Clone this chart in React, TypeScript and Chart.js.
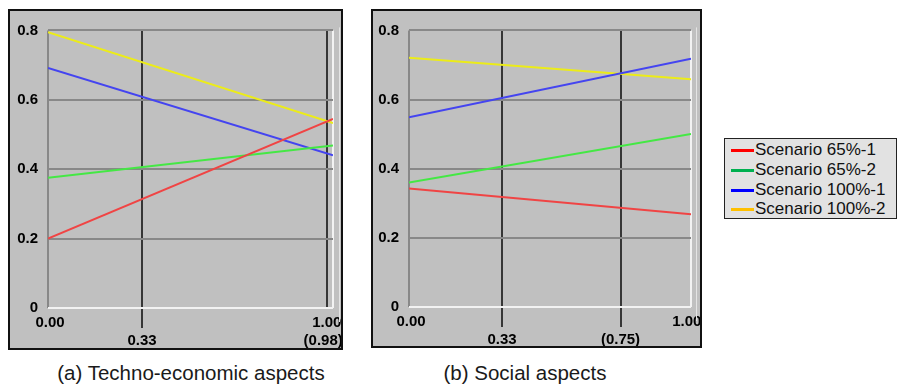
import React, { useEffect, useRef } from "react";
import { Chart, registerables } from "chart.js";

Chart.register(...registerables);

// ---------- data ----------
const scenarioNames = ["Scenario 65%-1", "Scenario 65%-2", "Scenario 100%-1", "Scenario 100%-2"];
const xValues = [0, 1];

// (a) Techno-economic aspects
const technoRed = [0.2, 0.545];
const technoGreen = [0.375, 0.468];
const technoBlue = [0.692, 0.44];
const technoYellow = [0.795, 0.533];

// (b) Social aspects
const socialRed = [0.343, 0.268];
const socialGreen = [0.36, 0.5];
const socialBlue = [0.549, 0.718];
const socialYellow = [0.721, 0.659];

const yTickValues = [0, 0.2, 0.4, 0.6, 0.8];
const technoXTicks = [0, 0.33, 0.98, 1];
const technoXLabels: (string | string[])[] = ["\u00a00.00", ["", "0.33"], ["", "(0.98)\u00a0\u00a0"], "1.00\u00a0\u00a0\u00a0"];
const socialXTicks = [0, 0.33, 0.75, 1];
const socialXLabels: (string | string[])[] = ["\u00a00.00", ["", "0.33"], ["", "(0.75)"], "1.00\u00a0\u00a0"];

const technoMarked = [0.33, 0.98];
const technoExtended = [0.33];
const socialMarked = [0.33, 0.75];
const socialExtended = [0.33, 0.75];

const captionA = "(a) Techno-economic aspects";
const captionB = "(b) Social aspects";

// ---------- styles ----------
const plotColors = ["#f04444", "#44e844", "#4444f0", "#ecec18"];
const legendColors = ["#ff0000", "#00b050", "#0000ff", "#ffc000"];
const tickFont = { family: 'Arial, "Liberation Sans", sans-serif', size: 15, weight: "bold" as const, lineHeight: 1.25 };

type PanelProps = {
  series: number[][];
  xTicks: number[];
  xLabels: (string | string[])[];
  marked: number[];
  extended: number[];
  left: number;
  top: number;
  width: number;
  height: number;
  yWidth: number;
  xHeight: number;
  padRight: number;
  frameOffset: number;
};

function Panel(p: PanelProps) {
  const ref = useRef<HTMLCanvasElement>(null);
  const innerW = p.width - 4;
  const innerH = p.height - 4;

  useEffect(() => {
    const framePlugin = {
      id: "frameLines",
      beforeDatasetsDraw(chart: any) {
        const { ctx, chartArea: a } = chart;
        ctx.save();
        ctx.strokeStyle = "#e4e4e4";
        ctx.lineWidth = 1;
        ctx.beginPath();
        ctx.moveTo(Math.round(a.right + p.frameOffset) + 0.5, a.top - 3);
        ctx.lineTo(Math.round(a.right + p.frameOffset) + 0.5, a.bottom + 14);
        ctx.stroke();
        ctx.restore();
      },
    };

    const isMarked = (v: number) => p.marked.some((m) => Math.abs(m - v) < 1e-9);
    const isExtended = (v: number) => p.extended.some((m) => Math.abs(m - v) < 1e-9);

    const chart = new Chart(ref.current as HTMLCanvasElement, {
      type: "line",
      data: {
        datasets: p.series.map((s, i) => ({
          label: scenarioNames[i],
          data: xValues.map((x, j) => ({ x, y: s[j] })),
          borderColor: plotColors[i],
          backgroundColor: plotColors[i],
          borderWidth: 2,
          pointRadius: 0,
          fill: false,
          tension: 0,
        })),
      },
      options: {
        animation: false,
        responsive: false,
        maintainAspectRatio: false,
        layout: { padding: { top: 12, right: p.padRight, left: 0, bottom: 0 } },
        plugins: { legend: { display: false }, tooltip: { enabled: false }, title: { display: false } },
        scales: {
          x: {
            type: "linear",
            min: 0,
            max: 1,
            border: { display: false },
            afterBuildTicks: (s: any) => {
              s.ticks = p.xTicks.map((v) => ({ value: v }));
            },
            afterFit: (s: any) => {
              s.height = p.xHeight;
            },
            grid: {
              drawTicks: true,
              tickLength: 20,
              tickWidth: 2,
              lineWidth: 2,
              color: (ctx: any) => {
                const v = ctx.tick ? ctx.tick.value : 0;
                if (isMarked(v)) return "#363636";
                if (v === 1) return "#f2f2f2";
                return "#888888";
              },
              tickColor: (ctx: any) => {
                const v = ctx.tick ? ctx.tick.value : 0;
                return isExtended(v) ? "#363636" : "rgba(0,0,0,0)";
              },
            },
            ticks: {
              autoSkip: false,
              maxRotation: 0,
              minRotation: 0,
              padding: -15,
              color: "#000000",
              font: tickFont,
              callback: (_v: any, i: number) => p.xLabels[i],
            },
          },
          y: {
            type: "linear",
            min: 0,
            max: 0.8,
            border: { display: false },
            afterBuildTicks: (s: any) => {
              s.ticks = yTickValues.map((v) => ({ value: v }));
            },
            afterFit: (s: any) => {
              s.width = p.yWidth;
            },
            grid: {
              drawTicks: false,
              lineWidth: 2,
              color: (ctx: any) => (ctx.tick && ctx.tick.value === 0 ? "#f2f2f2" : "#888888"),
            },
            ticks: {
              padding: 10,
              color: "#000000",
              font: tickFont,
              callback: (v: any) => (Number(v) === 0 ? "0" : Number(v).toFixed(1)),
            },
          },
        },
      },
      plugins: [framePlugin],
    } as any);
    return () => chart.destroy();
  }, []);

  return (
    <div
      style={{
        position: "absolute",
        left: p.left,
        top: p.top,
        width: innerW,
        height: innerH,
        border: "2px solid #111",
        background: "#c0c0c0",
        overflow: "hidden",
      }}
    >
      <canvas ref={ref} width={innerW} height={innerH} style={{ display: "block", width: innerW, height: innerH }} />
    </div>
  );
}

export default function App() {
  const captionStyle: React.CSSProperties = {
    position: "absolute",
    top: 361,
    height: 24,
    lineHeight: "24px",
    fontFamily: 'Arial, "Liberation Sans", sans-serif',
    fontSize: 20.5,
    color: "#1a1a1a",
    textAlign: "center",
    whiteSpace: "nowrap",
  };
  return (
    <div style={{ position: "absolute", left: 0, top: 0, width: 898, height: 389, background: "#ffffff", overflow: "hidden" }}>
      <Panel
        series={[technoRed, technoGreen, technoBlue, technoYellow]}
        xTicks={technoXTicks}
        xLabels={technoXLabels}
        marked={technoMarked}
        extended={technoExtended}
        left={8}
        top={9}
        width={335}
        height={341}
        yWidth={38}
        xHeight={40}
        padRight={8}
        frameOffset={6}
      />
      <Panel
        series={[socialRed, socialGreen, socialBlue, socialYellow]}
        xTicks={socialXTicks}
        xLabels={socialXLabels}
        marked={socialMarked}
        extended={socialExtended}
        left={371}
        top={9}
        width={331}
        height={339}
        yWidth={36}
        xHeight={39}
        padRight={9}
        frameOffset={5}
      />
      <div style={{ ...captionStyle, left: 41, width: 300 }}>{captionA}</div>
      <div style={{ ...captionStyle, left: 375, width: 300 }}>{captionB}</div>
      <div
        style={{
          position: "absolute",
          left: 724,
          top: 138,
          width: 171,
          height: 79,
          border: "1px solid #222",
          background: "#e2e2e2",
          fontFamily: 'Arial, "Liberation Sans", sans-serif',
          fontSize: 17,
          color: "#111",
        }}
      >
        {scenarioNames.map((name, i) => (
          <div key={name} style={{ position: "absolute", left: 0, top: 1 + i * 19.8, height: 20, width: 171 }}>
            <div style={{ position: "absolute", left: 6, top: 9, width: 23, height: 3, background: legendColors[i] }} />
            <div style={{ position: "absolute", left: 30, top: 0, lineHeight: "20px", whiteSpace: "nowrap" }}>{name}</div>
          </div>
        ))}
      </div>
    </div>
  );
}
